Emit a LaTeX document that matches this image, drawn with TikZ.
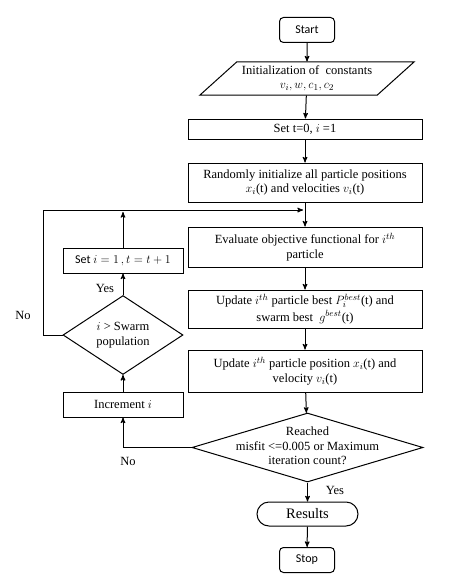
\documentclass[tikz,border=0pt]{standalone}
\usepackage{fontspec}
\setmainfont{Liberation Serif}
\newfontfamily\calfont{Carlito}
\usetikzlibrary{arrows,shapes,positioning,calc}

\begin{document}
\begin{tikzpicture}[x=1pt,y=-1pt,line width=1pt,>=stealth',
    font=\fontsize{12.5}{14.5}\selectfont,
    box/.style={draw, minimum width=234pt, align=center, inner sep=2pt},
    sidebox/.style={draw, minimum width=120pt, minimum height=25pt, inner sep=2pt},
    term/.style={draw, rounded corners=4pt, minimum width=55pt, minimum height=25pt,
        font=\calfont\fontsize{12}{14}\selectfont},
    io/.style={draw, trapezium, trapezium left angle=36, trapezium right angle=144,
        trapezium stretches body, minimum width=214pt, minimum height=33pt, align=center, inner sep=1pt},
    decision/.style={draw, diamond, inner sep=0pt},
    flow/.style={->}]
    \useasboundingbox (0,0) rectangle (474,578);

    % main column
    \node[term] (start) at (307,30) {Start};
    \node[io] (init) at (307,78.5) {Initialization of\ \ constants\\[-1pt] $v_i, w, c_1, c_2$};
    \node[box, minimum height=20pt] (set0) at (305,129) {Set t=0, $i$ =1};
    \node[box, minimum height=39pt] (rand) at (305,182.5) {Randomly initialize all particle positions\\ $x_i$(t) and velocities $v_i$(t)};
    \node[box, minimum height=40pt] (eval) at (305,247) {Evaluate objective functional for $i^{th}$\\ particle};
    \node[box, minimum height=38pt] (best) at (305,309) {Update $i^{th}$ particle best $P_i^{best}$(t) and\\[2pt] swarm best\ \ $g^{best}$(t)};
    \node[box, minimum height=42pt] (pos) at (305,371) {Update $i^{th}$ particle position $x_i$(t) and\\ velocity $v_i$(t)};
    \node[decision, minimum width=231pt, minimum height=69pt] (reach) at (307.5,447.5) {};
    \node[align=center] (reachtxt) at (307.5,446) {Reached\\ misfit <=0.005 or Maximum\\ iteration count?};
    \node[draw, rounded corners=12pt, minimum width=101pt, minimum height=24pt,
        font=\fontsize{14.5}{16}\selectfont] (results) at (307.5,514) {Results};
    \node[term] (stop) at (307,560) {Stop};

    % left column
    \node[sidebox] (inc) at (123,404.5) {Increment $i$};
    \node[decision, minimum width=120pt, minimum height=70pt, align=center] (swarm) at (123,335) {$i$ > Swarm\\ population};
    \node[sidebox, font=\calfont\fontsize{12}{14}\selectfont] (setit) at (123,260.5) {Set $i = 1\,, t = t + 1$};

    \coordinate (top) at (123,212);
    \coordinate (fb) at (43,210);
    \coordinate (fbend) at (303,210);

    \draw[flow] (start) -- (init);
    \draw[flow] (init) -- (set0);
    \draw[flow] (set0) -- (rand);
    \draw[flow] (rand) -- (eval);
    \draw[flow] (eval) -- (best);
    \draw[flow] (best) -- (pos);
    \draw[flow] (pos) -- (reach);
    \draw[flow] (reach) -- (results);
    \draw[flow] (results) -- (stop);
    \draw[flow] (reach.west) -| (inc.south);
    \draw[flow] (inc) -- (swarm);
    \draw[flow] (swarm) -- (setit);
    \draw[flow] (setit) -- (top);
    \draw[flow] (swarm.west) -| (fb) -- (fbend);

    \node (yes1) at (335,490) {Yes};
    \node (yes2) at (105,288) {Yes};
    \node (no1) at (128,461) {No};
    \node (no2) at (23,315) {No};
\end{tikzpicture}
\end{document}
